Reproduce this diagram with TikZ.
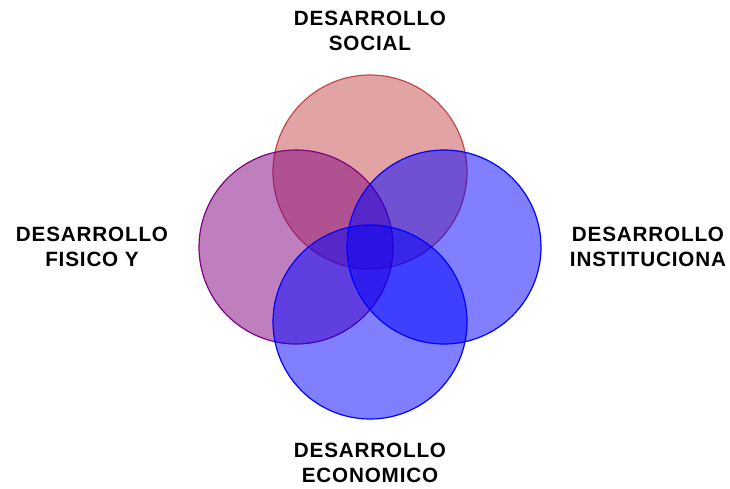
\documentclass[tikz,border=0pt]{standalone}
\usepackage{fontspec}
\setmainfont{Liberation Sans}[LetterSpace=4]
\usepackage{tikz}
\definecolor{socialred}{RGB}{196,72,72}
\definecolor{fisicopurple}{RGB}{128,0,128}
\definecolor{econblue}{RGB}{0,0,255}

\tikzset{
  label text/.style={font=\bfseries\fontsize{15.5}{18.75}\selectfont, align=center, text=black},
  venn/.style={line width=0.9pt, fill opacity=0.5}
}

\begin{document}
\begin{tikzpicture}[x=0.75pt,y=-0.75pt]
        \useasboundingbox (0,0) rectangle (730,488);
        \draw[socialred,venn,fill=socialred] (370,172) circle[radius=97];
        \draw[fisicopurple,venn,fill=fisicopurple] (296,247) circle[radius=97];
        \draw[econblue,venn,fill=econblue] (444,247) circle[radius=97];
        \draw[econblue,venn,fill=econblue] (370,322) circle[radius=97];
        \node[label text] (social) at (370,31) {DESARROLLO\\SOCIAL};
        \node[label text] (fisico) at (92,247) {DESARROLLO\\FISICO Y};
        \node[label text] (institucional) at (648,247) {DESARROLLO\\INSTITUCIONA};
        \node[label text] (economico) at (370,463) {DESARROLLO\\ECONOMICO};
    \end{tikzpicture}
\end{document}
